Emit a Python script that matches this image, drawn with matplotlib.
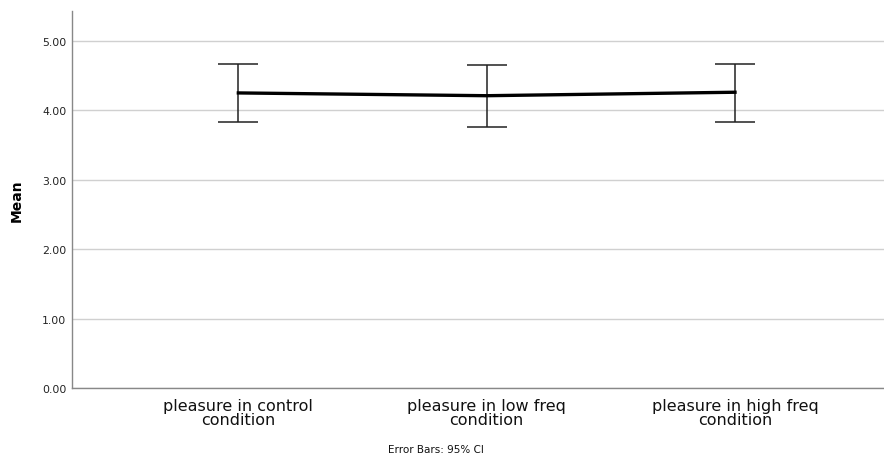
import matplotlib
matplotlib.use("Agg")
import matplotlib.pyplot as plt

# ======================
# データ
# ======================
conditions = ["pleasure in control\ncondition",
              "pleasure in low freq\ncondition",
              "pleasure in high freq\ncondition"]
means = [4.25, 4.21, 4.26]
ci_low = [3.83, 3.755, 3.83]
ci_high = [4.67, 4.65, 4.67]

yticks = [0, 1, 2, 3, 4, 5]

# ======================
# 描画
# ======================
fig = plt.figure(figsize=(8.84, 4.6), dpi=100)
ax = fig.add_axes([0.0814, 0.154, 0.9186, 0.82])

x = list(range(len(conditions)))
err = [[m - lo for m, lo in zip(means, ci_low)],
       [hi - m for m, hi in zip(means, ci_high)]]

ax.plot(x, means, color="black", linewidth=2.4, zorder=3)
ax.errorbar(x, means, yerr=err, fmt="none", ecolor="#222222",
            elinewidth=1.1, capsize=14.4, capthick=1.1, zorder=2)

ax.set_xlim(-0.67, 2.6)
ax.set_ylim(0, 5.43)
ax.set_yticks(yticks)
ax.set_yticklabels([f"{v:.2f}" for v in yticks], fontsize=7.8, color="#222222")
ax.set_xticks(x)
ax.set_xticklabels(conditions, fontsize=11.5, color="#111111", linespacing=0.95)
ax.tick_params(length=0, pad=4)
ax.tick_params(axis="x", pad=7)

ax.grid(axis="y", color="#d0d0d0", linewidth=1)
ax.set_axisbelow(True)
for side in ["top", "right"]:
    ax.spines[side].set_visible(False)
for side in ["left", "bottom"]:
    ax.spines[side].set_color("#888888")
    ax.spines[side].set_linewidth(1)

ax.set_ylabel("Mean", fontsize=10, fontweight="bold", labelpad=13)

fig.text(0.493, 0.015, "Error Bars: 95% CI", fontsize=7.5, ha="center",
         color="#111111")

fig.savefig("out.png", dpi=100)
